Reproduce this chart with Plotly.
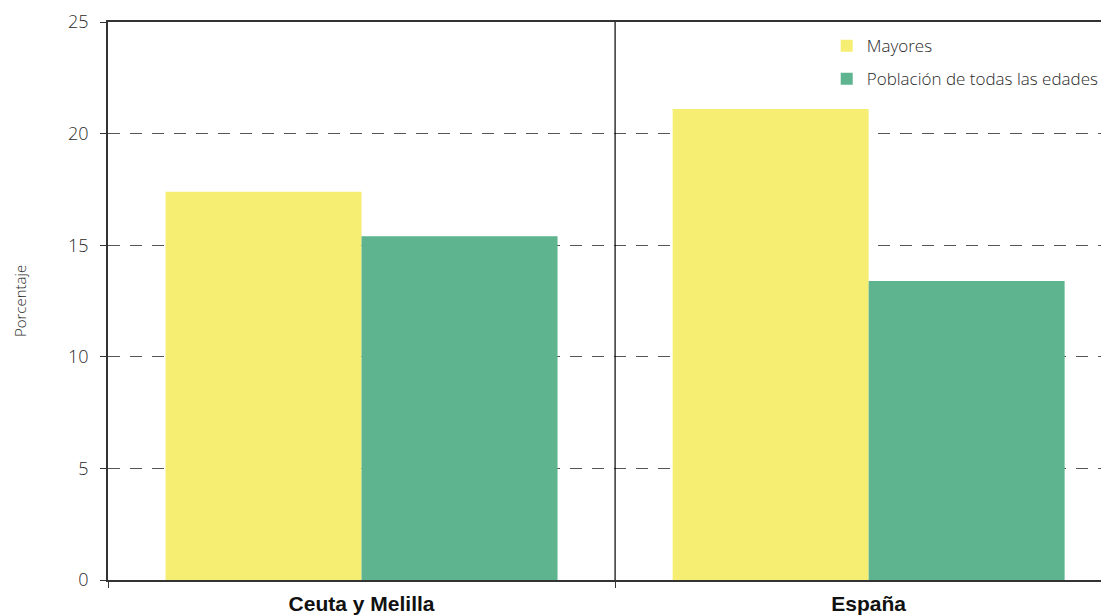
import plotly.graph_objects as go

categories = ["Ceuta y Melilla", "España"]
mayores = [17.4, 21.1]
poblacion = [15.4, 13.4]
series_names = ["Mayores", "Población de todas las edades"]
colors = ["#F5EE73", "#5EB48F"]
y_ticks = [0, 5, 10, 15, 20, 25]

fig = go.Figure()
fig.add_trace(go.Bar(x=categories, y=mayores, name=series_names[0], legendgroup="a",
                     marker=dict(color=colors[0], line=dict(width=0))))
fig.add_trace(go.Bar(x=categories, y=poblacion, name=series_names[1], legendgroup="b",
                     marker=dict(color=colors[1], line=dict(width=0))))

fig.add_shape(type="line", xref="x", yref="y", x0=0.5, x1=0.5, y0=0, y1=25,
              line=dict(color="#000000", width=1.2))

light = dict(family="Open Sans", weight=300, color="#2a2a2a")

fig.update_layout(
    width=1109, height=616,
    margin=dict(l=100, r=8, t=14, b=44),
    paper_bgcolor="white", plot_bgcolor="white",
    barmode="group", bargap=0.227, bargroupgap=0,
    font=dict(family="Open Sans", color="#333333"),
    legend=dict(x=0.718, y=0.989, xanchor="left", yanchor="top",
                bgcolor="rgba(0,0,0,0)", font=dict(size=17, **light),
                tracegroupgap=8, itemwidth=30),
    xaxis=dict(range=[-0.5, 1.474], showline=True, linecolor="#333333", linewidth=1.5,
               mirror=True, ticks="outside", tickson="boundaries", ticklen=6,
               tickcolor="#333333", showgrid=False, automargin=False,
               ticklabelstandoff=4,
               tickfont=dict(family="Liberation Sans", size=21, color="#111111"),
               tickprefix="<b>", ticksuffix="</b>"),
    yaxis=dict(range=[0, 25], tickvals=y_ticks, showline=True, linecolor="#333333",
               linewidth=1.5, ticks="outside", ticklen=6, tickcolor="#333333",
               showgrid=True, gridcolor="#555555", gridwidth=1, griddash="12px,10px",
               zeroline=False, automargin=False, tickfont=dict(size=18, **light),
               ticklabelstandoff=8,
               title=dict(text="Porcentaje", font=dict(size=15, **light), standoff=38)),
)

fig.write_html("out.html")
